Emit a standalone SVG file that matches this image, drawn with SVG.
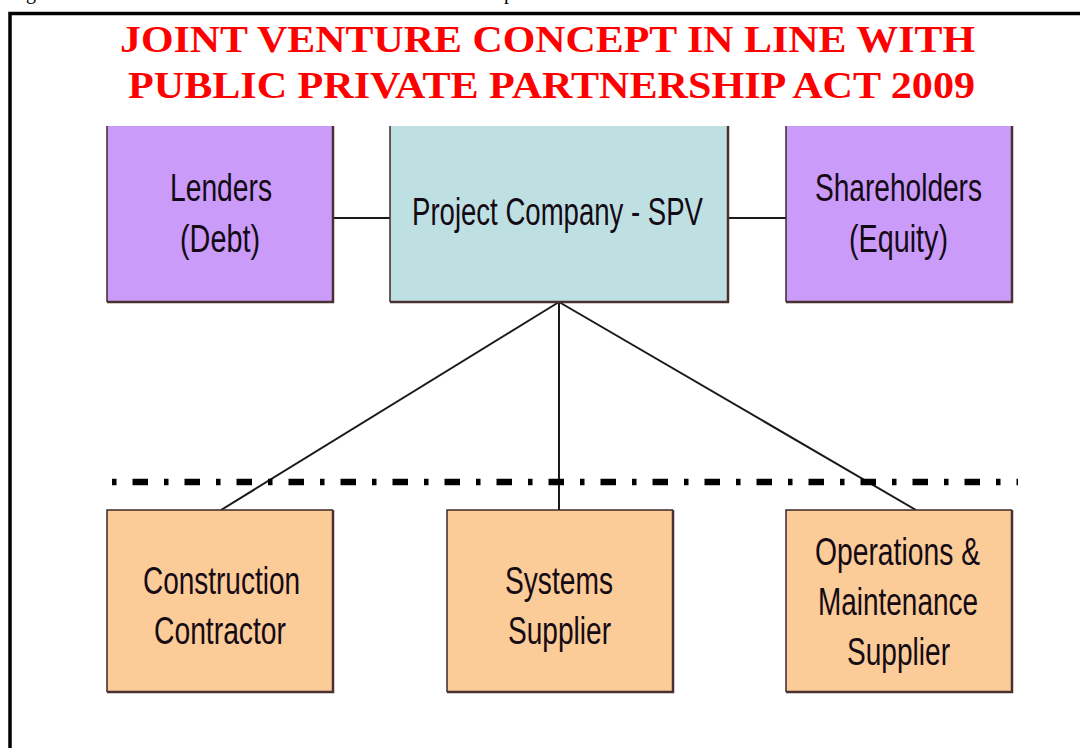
<svg xmlns="http://www.w3.org/2000/svg" width="1080" height="748" viewBox="0 0 1080 748">
  <style>
    .title { font-family: "Liberation Serif", "Times New Roman", serif; font-weight: bold; font-size: 38px; fill: #ff0000; }
    .cap { font-family: "Liberation Serif", "Times New Roman", serif; font-size: 20px; fill: #000; }
    .lbl { font-family: "Liberation Sans", Arial, sans-serif; font-size: 38px; fill: #140a14; }
    .edge { fill: none; stroke: #3a2a2a; stroke-width: 1.5; }
    .shadow { fill: none; stroke: #4a3030; stroke-width: 2.5; }
    .conn { fill: none; stroke: #1a1a1a; stroke-width: 2; }
    .fin { fill: #cb9bfa; }
    .spv { fill: #bfe0e3; }
    .sub { fill: #fbcb98; }
  </style>

  <rect x="0" y="0" width="1080" height="748" fill="#ffffff"/>

  <!-- caption line above the frame (only descenders visible) -->
  <text class="cap" x="26" y="-1">g</text>
  <text class="cap" x="504" y="-1">p</text>

  <!-- outer frame -->
  <path d="M10,760 V13.5 H1090" fill="none" stroke="#000" stroke-width="3.5"/>

  <!-- title -->
  <g id="title">
    <text class="title" x="120" y="52" textLength="855" lengthAdjust="spacingAndGlyphs">JOINT VENTURE CONCEPT IN LINE WITH</text>
    <text class="title" x="128" y="98" textLength="847" lengthAdjust="spacingAndGlyphs">PUBLIC PRIVATE PARTNERSHIP ACT 2009</text>
  </g>

  <!-- connectors -->
  <g id="connectors">
    <line class="conn" x1="333" y1="218" x2="390" y2="218"/>
    <line class="conn" x1="728" y1="218" x2="786" y2="218"/>
    <line class="conn" x1="559" y1="302" x2="221" y2="510"/>
    <line class="conn" x1="559" y1="302" x2="559" y2="510"/>
    <line class="conn" x1="559" y1="302" x2="916" y2="510"/>
    <!-- public / private boundary -->
    <line x1="112" y1="482" x2="1018" y2="482" stroke="#000" stroke-width="6.5" stroke-dasharray="4.5 16 15.5 16"/>
  </g>

  <!-- upper row -->
  <g id="lenders">
    <rect class="fin" x="107" y="126" width="226" height="176"/>
    <path class="edge" d="M107,126 V302"/>
    <path class="shadow" d="M107,302 H333 V126"/>
    <text class="lbl" x="170" y="201" textLength="102" lengthAdjust="spacingAndGlyphs">Lenders</text>
    <text class="lbl" x="180" y="252" textLength="80" lengthAdjust="spacingAndGlyphs">(Debt)</text>
  </g>

  <g id="spv">
    <rect class="spv" x="390" y="126" width="338" height="176"/>
    <path class="edge" d="M390,126 V302"/>
    <path class="shadow" d="M390,302 H728 V126"/>
    <text class="lbl" x="412" y="225" textLength="291" lengthAdjust="spacingAndGlyphs">Project Company - SPV</text>
  </g>

  <g id="shareholders">
    <rect class="fin" x="786" y="126" width="226" height="176"/>
    <path class="edge" d="M786,126 V302"/>
    <path class="shadow" d="M786,302 H1012 V126"/>
    <text class="lbl" x="815" y="201" textLength="167" lengthAdjust="spacingAndGlyphs">Shareholders</text>
    <text class="lbl" x="849" y="252" textLength="99" lengthAdjust="spacingAndGlyphs">(Equity)</text>
  </g>

  <!-- lower row -->
  <g id="construction">
    <rect class="sub" x="107" y="510" width="226" height="182"/>
    <path class="edge" d="M107,692 V510 H333"/>
    <path class="shadow" d="M107,692 H333 V510"/>
    <text class="lbl" x="143" y="594" textLength="157" lengthAdjust="spacingAndGlyphs">Construction</text>
    <text class="lbl" x="154" y="644" textLength="132" lengthAdjust="spacingAndGlyphs">Contractor</text>
  </g>

  <g id="systems">
    <rect class="sub" x="447" y="510" width="226" height="182"/>
    <path class="edge" d="M447,692 V510 H673"/>
    <path class="shadow" d="M447,692 H673 V510"/>
    <text class="lbl" x="505" y="594" textLength="108" lengthAdjust="spacingAndGlyphs">Systems</text>
    <text class="lbl" x="508" y="644" textLength="103" lengthAdjust="spacingAndGlyphs">Supplier</text>
  </g>

  <g id="operations">
    <rect class="sub" x="786" y="510" width="226" height="182"/>
    <path class="edge" d="M786,692 V510 H1012"/>
    <path class="shadow" d="M786,692 H1012 V510"/>
    <text class="lbl" x="815" y="565" textLength="165" lengthAdjust="spacingAndGlyphs">Operations &amp;</text>
    <text class="lbl" x="818" y="615" textLength="160" lengthAdjust="spacingAndGlyphs">Maintenance</text>
    <text class="lbl" x="847" y="665" textLength="103" lengthAdjust="spacingAndGlyphs">Supplier</text>
  </g>
</svg>
